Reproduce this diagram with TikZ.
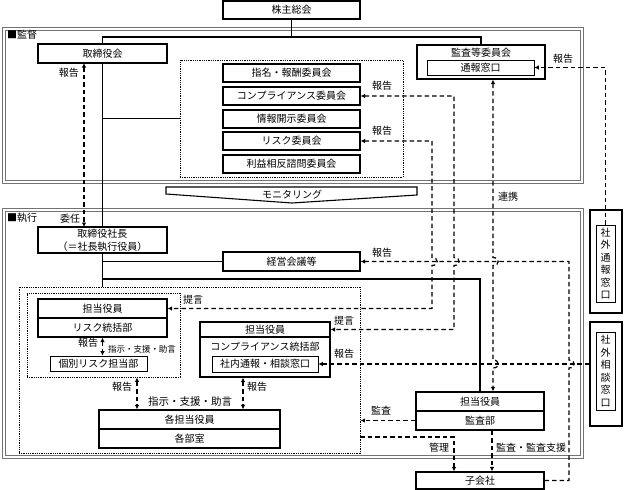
\documentclass[tikz,border=0pt]{standalone}
\usepackage{fontspec}
\setmainfont{Noto Sans CJK JP}
\usetikzlibrary{arrows.meta}
\begin{document}
\begin{tikzpicture}[x=1pt,y=-1pt,
  font=\fontsize{10}{12}\selectfont,
  bx/.style={draw,line width=1.2pt,inner sep=0pt,align=center},
  sbx/.style={draw,line width=0.7pt,inner sep=0pt,align=center},
  ln/.style={line width=1.1pt},
  dsh/.style={line width=1.2pt,dash pattern=on 4.5pt off 3pt,>={Latex[length=4.5pt,width=4.5pt]}},
  dotbox/.style={draw,line width=0.9pt,dash pattern=on 0.9pt off 0.9pt,inner sep=0pt},
  frame/.style={draw=black!55,line width=0.9pt},
  lbl/.style={inner sep=0pt}]
\useasboundingbox (0,0) rectangle (625,490);
% frames
\draw[frame] (2,27) rectangle (583,183);
\draw[frame] (5,30) rectangle (580,180);
\draw[frame] (2,208) rectangle (583,458);
\draw[frame] (5,211) rectangle (580,455);
\node[lbl,anchor=west] (kantoku) at (7,35) {■監督};
\node[lbl,anchor=west] (shikko) at (7,218) {■執行};
% boxes
\node[bx,minimum width=137pt,minimum height=18pt] (kabu) at (291.5,10) {株主総会};
\node[bx,minimum width=129pt,minimum height=19pt] (torikai) at (102.5,53.5) {取締役会};
\node[bx,minimum width=128pt,minimum height=34pt] (kansa) at (481,62) {};
\node[lbl] (kansaT) at (481,52.5) {監査等委員会};
\node[sbx,minimum width=107pt,minimum height=15pt] (tsuho) at (480.5,67.5) {通報窓口};
\node[dotbox,minimum width=223pt,minimum height=117pt] (grp) at (291.5,118.5) {};
\node[bx,minimum width=137pt,minimum height=18pt] (c1) at (291.5,73) {指名・報酬委員会};
\node[bx,minimum width=137pt,minimum height=18pt] (c2) at (291.5,96) {コンプライアンス委員会};
\node[bx,minimum width=137pt,minimum height=18pt] (c3) at (291.5,119) {情報開示委員会};
\node[bx,minimum width=137pt,minimum height=18pt] (c4) at (291.5,141) {リスク委員会};
\node[bx,minimum width=137pt,minimum height=18pt] (c5) at (291.5,164) {利益相反諮問委員会};
% monitoring
\draw[line width=1.1pt] (166,187) -- (417,187) -- (417,195) -- (292,203) -- (166,194) -- cycle;
\node[lbl] (mon) at (292,194.5) {モニタリング};
% execution
\node[bx,minimum width=129pt,minimum height=26pt,font=\fontsize{10}{13}\selectfont] (shacho) at (102.5,240) {取締役社長\\（＝社長執行役員）};
\node[bx,minimum width=137pt,minimum height=19pt] (keiei) at (291.5,261.5) {経営会議等};
\node[dotbox,minimum width=341pt,minimum height=166pt] (bigdot) at (189.5,370) {};
\node[dotbox,minimum width=153pt,minimum height=84pt] (riskdot) at (103.5,335) {};
\node[bx,minimum width=129pt,minimum height=19pt] (riskT) at (102.5,308.5) {担当役員};
\node[bx,minimum width=129pt,minimum height=19pt] (riskB) at (102.5,327.5) {リスク統括部};
\node[sbx,minimum width=97pt,minimum height=15pt] (kobetsu) at (98.5,363.5) {個別リスク担当部};
\node[bx,minimum width=130pt,minimum height=15pt] (compT) at (265,329.5) {担当役員};
\node[bx,minimum width=130pt,minimum height=40pt] (compB) at (265,357) {};
\node[lbl] (compL) at (265,346.5) {コンプライアンス統括部};
\node[sbx,minimum width=106pt,minimum height=16pt] (naibu) at (265,364) {社内通報・相談窓口};
\node[bx,minimum width=181pt,minimum height=19pt] (kakuT) at (189.5,419.5) {各担当役員};
\node[bx,minimum width=181pt,minimum height=19pt] (kakuB) at (189.5,438.5) {各部室};
\node[bx,minimum width=128pt,minimum height=19pt] (kbT) at (480,401.5) {担当役員};
\node[bx,minimum width=128pt,minimum height=19pt] (kbB) at (480,420.5) {監査部};
\node[bx,minimum width=128pt,minimum height=17pt] (ko) at (480,480.5) {子会社};
% outside windows
\node[bx,minimum width=32pt,minimum height=103pt] (gtsuho) at (606,261.5) {};
\node[sbx,minimum width=19pt,minimum height=77pt,font=\fontsize{10}{12.5}\selectfont] (gtsuhoIn) at (605.5,263.5) {社\\外\\通\\報\\窓\\口};
\node[bx,minimum width=32pt,minimum height=104pt] (gsodan) at (606,374) {};
\node[sbx,minimum width=19pt,minimum height=78pt,font=\fontsize{10}{12.5}\selectfont] (gsodanIn) at (605.5,371) {社\\外\\相\\談\\窓\\口};
% solid connectors
\coordinate (lv) at (0,37);
\draw[ln] (kabu.south) -- (kabu.south |- lv);
\draw[ln] (torikai.north) -- (torikai.north |- lv) -- (kansa.north |- lv) -- (kansa.north);
\draw[ln] (torikai.south) -- (shacho.north);
\draw[ln] (torikai.south |- grp.west) -- (grp.west);
\draw[ln] (shacho.south) -- (shacho.south |- bigdot.north);
\draw[ln] (shacho.south |- keiei.west) -- (keiei.west);
\coordinate (j279) at (102.5,279);
\draw[ln] (j279) -| (kbT.north);
% dashed connectors
\draw[dsh,<->] (84,63) -- (84,227);
\draw[dsh,<->] (c2.east) -- (454,96) -- (454,257.5) .. controls (461,257.5) and (461,265.5) .. (454,265.5) -- (454,329.5) -- (compT.east);
\draw[dsh,<->] (c4.east) -- (432,141) -- (432,257.5) .. controls (439,257.5) and (439,265.5) .. (432,265.5) -- (432,308.5) -- (riskT.east);
\draw[dsh,<->] ([xshift=12pt]kansa.south) -- (493,257.5) .. controls (500,257.5) and (500,265.5) .. (493,265.5) -- (493,360) .. controls (500,360) and (500,368) .. (493,368) -- ([xshift=13pt]kbT.north);
\draw[dsh,->] (ko.east) -- (569,480.5) -- (569,368) .. controls (576,368) and (576,360) .. (569,360) -- (569,261.5) -- (keiei.east);
\draw[dsh,->] (gsodan.west |- naibu.east) -- (naibu.east);
\draw[dsh,->] (gtsuhoIn.north) -- (605.5,67.5) -- (tsuho.east);
\draw[dsh,->] (kbB.west) -- (bigdot.east |- kbB.west);
\coordinate (kanriS) at (360,437);
\draw[dsh,->] (kanriS) -- (454,437) -- ([xshift=-26pt]ko.north);
\draw[dsh,->] ([xshift=12pt]kbB.south) -- ([xshift=12pt]ko.north);
\draw[dsh,<->] (riskB.south) -- (riskB.south |- kobetsu.north);
\draw[dsh,<->] ([xshift=33.5pt]riskdot.south) -- ([xshift=-52.5pt]kakuT.north);
\draw[dsh,<->] ([xshift=-22pt]compB.south) -- ([xshift=53.5pt]kakuT.north);
% labels
\node[lbl] (l1) at (69,73) {報告};
\node[lbl] (l2) at (70,219) {委任};
\node[lbl] (l3) at (382,86) {報告};
\node[lbl] (l4) at (382,131) {報告};
\node[lbl] (l5) at (563,59) {報告};
\node[lbl] (l6) at (508,197) {連携};
\node[lbl] (l7) at (382,253) {報告};
\node[lbl] (l8) at (193,300) {提言};
\node[lbl] (l9) at (344,321) {提言};
\node[lbl] (l10) at (344,354) {報告};
\node[lbl] (l11) at (381,411) {監査};
\node[lbl] (l12) at (439,448) {管理};
\node[lbl] (l13) at (531,448) {監査・監査支援};
\node[lbl] (l14) at (88,343) {報告};
\node[lbl,font=\fontsize{8.5}{10}\selectfont] (l15) at (142,349) {指示・支援・助言};
\node[lbl] (l16) at (122,387) {報告};
\node[lbl] (l17) at (257,387) {報告};
\node[lbl,font=\fontsize{10.5}{12}\selectfont] (l18) at (190,402) {指示・支援・助言};
\end{tikzpicture}
\end{document}
